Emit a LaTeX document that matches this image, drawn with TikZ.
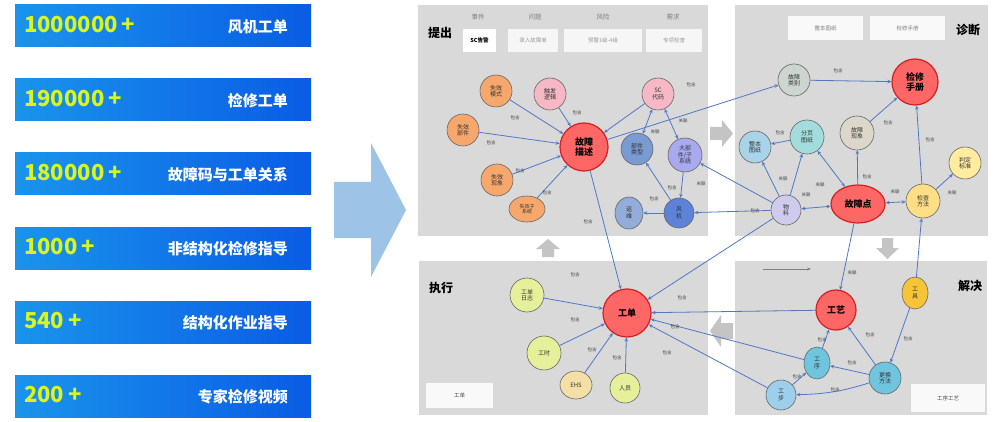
\documentclass[tikz,border=0pt]{standalone}
\usepackage{fontspec}
\setmainfont{Noto Sans CJK SC}
\usepackage{tikz}
\usetikzlibrary{shapes.geometric,arrows.meta,positioning}
\definecolor{panelgray}{HTML}{D9D9D9}
\definecolor{arrowgray}{HTML}{C4C4C4}
\definecolor{barleft}{HTML}{1A94EC}
\definecolor{barright}{HTML}{0A5CE4}
\definecolor{numyellow}{HTML}{D8F520}
\definecolor{bigblue}{HTML}{9DC3E6}
\definecolor{edgeblue}{HTML}{4F78C8}
\definecolor{redfill}{HTML}{FF6666}
\definecolor{redline}{HTML}{D42020}
\definecolor{cOrange}{HTML}{F6A86C}
\definecolor{cPink}{HTML}{F7B8C6}
\definecolor{cSteel}{HTML}{7A9AD2}
\definecolor{cFan}{HTML}{5E82D8}
\definecolor{cOps}{HTML}{93ACDA}
\definecolor{cPeri}{HTML}{A8A9EE}
\definecolor{cSage}{HTML}{CCD6CE}
\definecolor{cSky}{HTML}{A9D3E8}
\definecolor{cAqua}{HTML}{A2DCDC}
\definecolor{cBeige}{HTML}{DDD7CB}
\definecolor{cCream}{HTML}{FFEC9E}
\definecolor{cLav}{HTML}{CFCBEC}
\definecolor{cSun}{HTML}{FFDE85}
\definecolor{cLime}{HTML}{E6F09A}
\definecolor{cSand}{HTML}{F4E0A6}
\definecolor{cGold}{HTML}{F7C437}
\definecolor{cTeal}{HTML}{6FC4DE}
\definecolor{cIce}{HTML}{9DCFEA}
\tikzset{>=stealth}
\tikzstyle{bar} = [left color=barleft, right color=barright, draw=none]
\tikzstyle{edge} = [draw=edgeblue, line width=0.8pt, -{Stealth[length=4pt,width=3.5pt]}]
\tikzstyle{both} = [draw=edgeblue, line width=0.8pt, {Stealth[length=4pt,width=3.5pt]}-{Stealth[length=4pt,width=3.5pt]}]

\begin{document}
\begin{tikzpicture}[x=1pt, y=-1pt,
	every node/.style={inner sep=0pt, align=center},
	ball/.style={circle, draw=gray!80!black, line width=0.6pt,
	font=\fontsize{6}{6.5}\selectfont, text=black!80},
	oval/.style={ellipse, draw=gray!80!black, line width=0.6pt,
	font=\fontsize{6}{6.5}\selectfont, text=black!80},
	hub/.style={circle, draw=redline, fill=redfill, line width=1.2pt,
	font=\fontsize{9}{10}\selectfont\bfseries, text=black},
	lbl/.style={font=\fontsize{4.5}{5}\selectfont, text=black!75},
	title/.style={font=\fontsize{12}{12}\selectfont\bfseries, text=black},
	tag/.style={font=\fontsize{6.5}{7}\selectfont, text=gray},
	tagbox/.style={draw=none, fill=white!93!gray, minimum height=23pt,
	font=\fontsize{5.5}{6}\selectfont, text=gray!80}]
	\useasboundingbox (0,0) rectangle (998,422);
	\fill[white] (0,0) rectangle (998,422);
	%% Figures on the left
	\foreach \y/\num/\what in {5/1000000\,+/风机工单, 79/190000\,+/检修工单,
		153/180000\,+/故障码与工单关系, 227/1000\,+/非结构化检修指导,
		301/540\,+/结构化作业指导, 375/200\,+/专家检修视频}{
		\shade[bar] (15,\y) rectangle (311,\y+42);
		\node[anchor=west, text=numyellow, font=\fontsize{22}{22}\selectfont\bfseries]
		(num\y) at (24,\y+20) {\num};
		\node[anchor=east, text=white, font=\fontsize{15}{15}\selectfont\bfseries]
		(what\y) at (288,\y+22) {\what};
	}
	%% The big arrow
	\fill[bigblue] (334,182) -- (371,182) -- (371,143) -- (406,210)
	-- (371,277) -- (371,238) -- (334,238) -- cycle;
	%% Panels
	\fill[panelgray] (418,5) rectangle (708,236);
	\fill[panelgray] (735,5) rectangle (988,236);
	\fill[panelgray] (419,261) rectangle (708,415);
	\fill[panelgray] (735,261) rectangle (987,415);
	%% Gray arrows between the panels
	\fill[arrowgray] (710,127) -- (722,127) -- (722,120) -- (733,133.5)
	-- (722,147) -- (722,140) -- (710,140) -- cycle;
	\fill[arrowgray] (882,238) -- (893,238) -- (893,248) -- (899,248)
	-- (887.5,259) -- (876,248) -- (882,248) -- cycle;
	\fill[arrowgray] (733,323) -- (721,323) -- (721,315) -- (710,331)
	-- (721,347) -- (721,339) -- (733,339) -- cycle;
	\fill[arrowgray] (542,257) -- (542,249) -- (536,249) -- (548,239)
	-- (560,249) -- (554,249) -- (554,257) -- cycle;
	\coordinate (runA) at (763,269);
	\coordinate (runB) at (811,269);
	\draw[gray, line width=0.9pt, -{Stealth[length=4pt,width=3pt]}] (runA) -- (runB);
	%% Titles
	\node[title] (tRaise) at (440,33) {提出};
	\node[title] (tDiag) at (968,30) {诊断};
	\node[title] (tExec) at (441,288) {执行};
	\node[title] (tSolve) at (970,286) {解决};
	%% Header of the first panel
	\node[tag] (hEvent) at (478,17) {事件};
	\node[tag] (hIssue) at (535,17) {问题};
	\node[tag] (hRisk) at (603,17) {风险};
	\node[tag] (hNeed) at (673,17) {需求};
	\node[draw=none, fill=white, minimum width=33pt, minimum height=23pt,
	font=\fontsize{5.5}{6}\selectfont\bfseries] (bAlarm) at (479.5,40.5) {SC告警};
	\node[tagbox, minimum width=50pt] (bEntry) at (533,40.5) {录入故障单};
	\node[tagbox, minimum width=78pt] (bWarn) at (603,40.5) {预警1级-4级};
	\node[tagbox, minimum width=56pt] (bCheck) at (674,40.5) {专项检查};
	%% Boxes of the other panels
	\node[tagbox, fill=white!95!gray, minimum width=75pt, minimum height=24pt, text=gray]
	(bDraw) at (825.5,28) {整本图纸};
	\node[tagbox, fill=white!95!gray, minimum width=75pt, minimum height=24pt, text=gray]
	(bManual) at (907.5,28) {检修手册};
	\node[tagbox, fill=white!95!gray, minimum width=67pt, minimum height=25pt, text=black!70]
	(bOrder) at (459.5,395.5) {工单};
	\node[tagbox, fill=white!95!gray, minimum width=74pt, minimum height=28pt, text=black!70]
	(bProc) at (948,398) {工序工艺};
	%% Nodes: raise
	\node[ball, fill=cOrange, minimum size=32pt] (sxms) at (496,91) {失效\\模式};
	\node[ball, fill=cPink, minimum size=32pt] (cfbl) at (550,94) {触发\\逻辑};
	\node[ball, fill=cPink, minimum size=32pt] (scdm) at (658,94) {SC\\代码};
	\node[ball, fill=cOrange, minimum size=32pt] (sxbj) at (463,130) {失效\\部件};
	\node[hub, minimum size=48pt] (gzms) at (584,147) {故障\\描述};
	\node[ball, fill=cSteel, minimum size=32pt] (bjlx) at (637,149) {部件\\类型};
	\node[ball, fill=cPeri, minimum size=34pt] (dbj) at (685,155) {大部\\件/子\\系统};
	\node[ball, fill=cOrange, minimum size=32pt] (sxxx) at (497,180) {失效\\现象};
	\node[oval, fill=cOrange, minimum width=36pt, minimum height=26pt,
	font=\fontsize{5}{5.5}\selectfont] (sxzxt) at (527,209) {失效子\\系统};
	\node[oval, fill=cOps, minimum width=28pt, minimum height=32pt] (yw) at (629,213) {运\\维};
	\node[ball, fill=cFan, minimum size=30pt] (fj) at (679,213) {风\\机};
	%% Nodes: diagnose
	\node[ball, fill=cSage, minimum size=32pt] (gzlb) at (794,80) {故障\\类别};
	\node[hub, minimum size=46pt] (jxsc) at (915,82) {检修\\手册};
	\node[ball, fill=cSky, minimum size=32pt] (zbtz) at (755,147) {整本\\图纸};
	\node[ball, fill=cAqua, minimum size=34pt] (fytz) at (807,137) {分页\\图纸};
	\node[ball, fill=cBeige, minimum size=34pt] (gzxx) at (857,133) {故障\\现象};
	\node[ball, fill=cCream, minimum size=32pt] (pdbz) at (965,163) {判定\\标准};
	\node[ball, fill=cLav, minimum size=30pt] (wl) at (786,210) {物\\料};
	\node[oval, draw=redline, fill=redfill, line width=1.2pt, minimum width=54pt,
	minimum height=38pt, font=\fontsize{9}{10}\selectfont\bfseries, text=black] (gzd) at (858,204) {故障点};
	\node[ball, fill=cSun, minimum size=34pt] (jcff) at (923,201) {检查\\方法};
	%% Nodes: execute
	\node[ball, fill=cLime, minimum size=34pt] (gdrz) at (527,295) {工单\\日志};
	\node[hub, minimum size=48pt] (gd) at (627,313) {工单};
	\node[ball, fill=cLime, minimum size=34pt] (gs) at (544,353) {工时};
	\node[oval, fill=cSand, minimum width=32pt, minimum height=28pt] (ehs) at (576,385) {EHS};
	\node[ball, fill=cLime, minimum size=30pt] (ry) at (625,388) {人员};
	%% Nodes: solve
	\node[hub, minimum size=40pt] (gy) at (836,310) {工艺};
	\node[oval, fill=cGold, minimum width=26pt, minimum height=32pt] (gj) at (915,293) {工\\具};
	\node[oval, fill=cTeal, minimum width=26pt, minimum height=32pt] (gx) at (817,363) {工\\序};
	\node[ball, fill=cTeal, minimum size=32pt] (ghff) at (885,378) {更换\\方法};
	\node[ball, fill=cIce, minimum size=30pt] (gb) at (781,395) {工\\步};
	%% Arrows
	\path[edge] (sxms) -- (gzms);
	\path[edge] (sxbj) -- (gzms);
	\path[edge] (sxxx) -- (gzms);
	\path[edge] (sxzxt) -- (gzms);
	\path[edge] (cfbl) -- (gzms);
	\path[edge] (scdm) -- (gzms);
	\path[edge] (gzms) -- (gzlb);
	\path[edge] (gzms) -- (gd);
	\path[both] (scdm) -- (bjlx);
	\path[both] (scdm) -- (dbj);
	\path[edge] (dbj) -- (fj);
	\path[edge] (fj) -- (bjlx);
	\path[edge] (fj) -- (yw);
	\path[edge] (wl) -- (fj);
	\path[edge] (wl) -- (dbj);
	\path[edge] (wl) -- (gd);
	\path[edge] (gzlb) -- (jxsc);
	\path[edge] (gzxx) -- (jxsc);
	\path[edge] (jcff) -- (jxsc);
	\path[edge] (fytz) -- (zbtz);
	\path[edge] (wl) -- (zbtz);
	\path[edge] (wl) -- (fytz);
	\path[both] (fytz) -- (gzd);
	\path[edge] (gzd) -- (gzxx);
	\path[both] (wl) -- (gzd);
	\path[both] (gzd) -- (jcff);
	\path[edge] (jcff) -- (pdbz);
	\path[edge] (gzd) -- (gy);
	\path[edge] (gj) -- (jcff);
	\path[edge] (gj) -- (ghff);
	\path[edge] (ghff) -- (gy);
	\path[edge] (gx) -- (gy);
	\path[edge] (ghff) -- (gx);
	\path[edge] (ghff) to[bend left=8] (gb);
	\path[edge] (gb) -- (gx);
	\path[edge] (gy) -- (gd);
	\path[edge] (gx) -- (gd);
	\path[edge] (gb) -- (gd);
	\path[edge] (gdrz) -- (gd);
	\path[edge] (gs) -- (gd);
	\path[edge] (ehs) -- (gd);
	\path[edge] (ry) -- (gd);
	%% Labels of the arrows
	\node[lbl] (l1) at (515,118) {包含};
	\node[lbl] (l2) at (491,143) {包含};
	\node[lbl] (l3) at (520,171) {包含};
	\node[lbl] (l4) at (547,193) {包含};
	\node[lbl] (l5) at (577,113) {包含};
	\node[lbl] (l6) at (691,85) {包含};
	\node[lbl] (l7) at (655,132) {关联};
	\node[lbl] (l8) at (683,121) {关联};
	\node[lbl] (l9) at (672,188) {包含};
	\node[lbl] (l10) at (654,199) {包含};
	\node[lbl] (l11) at (701,184) {关联};
	\node[lbl] (l12) at (588,222) {包含};
	\node[lbl] (l13) at (838,71) {包含};
	\node[lbl] (l14) at (780,133) {包含};
	\node[lbl] (l15) at (888,123) {包含};
	\node[lbl] (l16) at (930,140) {包含};
	\node[lbl] (l17) at (783,179) {关联};
	\node[lbl] (l18) at (820,185) {关联};
	\node[lbl] (l19) at (806,195) {关联};
	\node[lbl] (l20) at (867,177) {包含};
	\node[lbl] (l21) at (895,192) {关联};
	\node[lbl] (l22) at (952,193) {关联};
	\node[lbl] (l23) at (755,211) {包含};
	\node[lbl] (l24) at (852,273) {关联};
	\node[lbl] (l25) at (822,340) {包含};
	\node[lbl] (l26) at (870,335) {包含};
	\node[lbl] (l27) at (908,339) {包含};
	\node[lbl] (l28) at (852,363) {包含};
	\node[lbl] (l29) at (797,377) {包含};
	\node[lbl] (l30) at (835,390) {包含};
	\node[lbl] (l31) at (575,275) {包含};
	\node[lbl] (l32) at (575,320) {包含};
	\node[lbl] (l33) at (592,350) {包含};
	\node[lbl] (l34) at (617,358) {包含};
	\node[lbl] (l35) at (682,298) {包含};
	\node[lbl] (l36) at (675,327) {包含};
	\node[lbl] (l37) at (667,353) {包含};
\end{tikzpicture}
\end{document}
